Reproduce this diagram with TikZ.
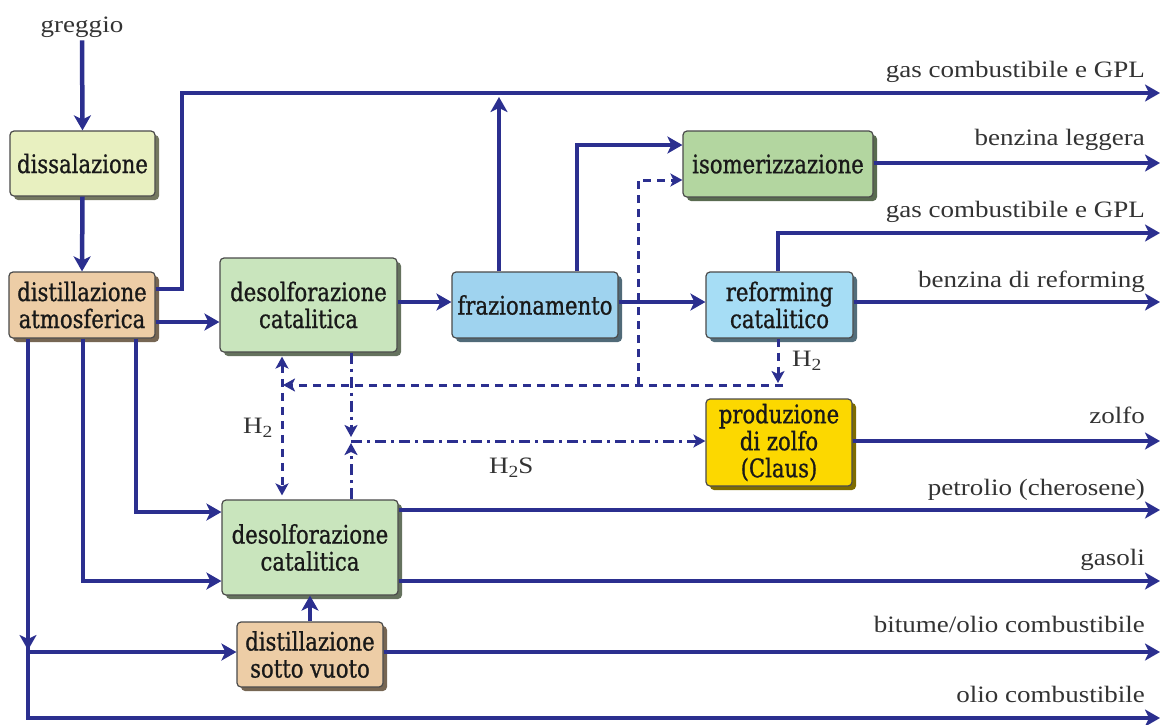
\documentclass[tikz,border=0pt]{standalone}
\usepackage{fontspec}
\usetikzlibrary{arrows.meta,shadows}
\newfontfamily\boxfont[FakeStretch=0.83,FakeBold=0.9]{DejaVu Serif}
\newfontfamily\lblfont[FakeStretch=1.15]{Liberation Serif}
\definecolor{flowc}{HTML}{2B2F8F}
\definecolor{boxline}{HTML}{4A4A4A}
\definecolor{txtc}{HTML}{333333}
\definecolor{cDiss}{HTML}{E8F0C0}
\definecolor{cTan}{HTML}{EDCDA6}
\definecolor{cDes}{HTML}{C9E5BD}
\definecolor{cIso}{HTML}{B3D6A0}
\definecolor{cFraz}{HTML}{9FD3EF}
\definecolor{cRef}{HTML}{A6DDF5}
\definecolor{cClaus}{HTML}{FCD800}
% chemical subscript, set lower and larger than \textsubscript
\newcommand{\chemsub}[1]{\raisebox{-0.45ex}{\fontsize{17}{17}\selectfont #1}}
\tikzset{
  unit/.style={draw=boxline, line width=1.2pt, rounded corners=4pt, fill=#1,
    general shadow={fill=#1!50!black, shadow xshift=4pt, shadow yshift=-4pt},
    inner sep=0pt, align=center, text=black!90,
    font=\boxfont\fontsize{25.5}{27}\selectfont},
  lbl/.style={text=txtc, inner sep=0pt, font=\lblfont\fontsize{23.5}{26}\selectfont},
  flowline/.style={draw=flowc, line width=4.5pt, line join=miter},
  flowarrow/.style={flowline, -{Stealth[length=15pt,width=17pt,inset=4pt]}},
  dashline/.style={draw=flowc, line width=3pt, dash pattern=on 8pt off 6pt},
  dasharrow/.style={dashline, -{Stealth[length=12pt,width=13pt,inset=3pt]}},
  dotline/.style={draw=flowc, line width=3pt, dash pattern=on 11pt off 5pt on 3pt off 5pt},
  dotarrow/.style={dotline, -{Stealth[length=12pt,width=13pt,inset=3pt]}},
}
\begin{document}
\begin{tikzpicture}[x=1pt,y=-1pt]
\useasboundingbox (0,0) rectangle (1167,724);

% process units
\node[unit=cDiss, minimum width=145pt, minimum height=65pt] (diss) at (82.5,163.5) {dissalazione};
\node[unit=cTan, minimum width=146pt, minimum height=66pt] (datm) at (82,305) {distillazione\\atmosferica};
\node[unit=cDes, minimum width=177pt, minimum height=94pt] (des1) at (308.5,305) {desolforazione\\catalitica};
\node[unit=cFraz, minimum width=166pt, minimum height=66pt] (fraz) at (535,305) {frazionamento};
\node[unit=cIso, minimum width=190pt, minimum height=66pt] (iso) at (778,164) {isomerizzazione};
\node[unit=cRef, minimum width=147pt, minimum height=66pt] (ref) at (779.5,305) {reforming\\catalitico};
\node[unit=cClaus, minimum width=146pt, minimum height=87pt] (claus) at (779,442.5) {produzione\\di zolfo\\(Claus)};
\node[unit=cDes, minimum width=176pt, minimum height=95pt] (des2) at (310,547.5) {desolforazione\\catalitica};
\node[unit=cTan, minimum width=146pt, minimum height=65pt] (vuoto) at (310,654.5) {distillazione\\sotto vuoto};

% feed
\node[lbl, anchor=base, inner sep=3pt] (greg) at (82,32) {greggio};
\draw[flowarrow] (greg.south) -- (diss.north);
\draw[flowarrow] (diss.south) -- (datm.north);

% helper points for the routed lines
\coordinate (c1) at (182,289);
\coordinate (c2) at (182,93);
\coordinate (y322) at (0,322);
\coordinate (y302) at (0,302);
\coordinate (f1) at (499,97);
\coordinate (f2) at (577,145);
\coordinate (r1) at (778,233);
\coordinate (o1) at (1160,93);
\coordinate (o2) at (1160,163);
\coordinate (o3) at (1160,233);
\coordinate (o4) at (1160,302);
\coordinate (o5) at (1160,441);
\coordinate (o6) at (1160,510);
\coordinate (o7) at (1160,581);
\coordinate (o8) at (1160,652);
\coordinate (o9) at (1160,718);
\coordinate (l1) at (136,512);
\coordinate (l2) at (83,581);
\coordinate (l3) at (28,718);
\coordinate (l4) at (28,652);
\coordinate (l5a) at (28,625);
\coordinate (l5) at (28,650);
\coordinate (h1) at (778,383);
\coordinate (h2) at (783,385);
\coordinate (h3) at (283,385);
\coordinate (i1) at (638,385);
\coordinate (i2) at (638,180);
\coordinate (v1) at (282,0);
\coordinate (s1) at (351,437);
\coordinate (s2) at (351,443);
\coordinate (s3) at (351,441);

% main product lines
\draw[flowarrow] (datm.east |- c1) -- (c1) -- (c2) -- (o1);
\draw[flowarrow] (datm.east |- y322) -- (des1.west |- y322);
\draw[flowarrow] (des1.east |- y302) -- (fraz.west |- y302);
\draw[flowarrow] (fraz.east |- y302) -- (ref.west |- y302);
\draw[flowarrow] (ref.east |- y302) -- (o4);
\draw[flowarrow] (fraz.north -| f1) -- (f1);
\draw[flowarrow] (fraz.north -| f2) -- (f2) -- (iso.west |- f2);
\draw[flowarrow] (iso.east |- o2) -- (o2);
\draw[flowarrow] (ref.north -| r1) -- (r1) -- (o3);
\draw[flowarrow] (claus.east |- o5) -- (o5);
\draw[flowarrow] (des2.east |- o6) -- (o6);
\draw[flowarrow] (des2.east |- o7) -- (o7);
\draw[flowarrow] (datm.south -| l1) -- (l1) -- (des2.west |- l1);
\draw[flowarrow] (datm.south -| l2) -- (l2) -- (des2.west |- l2);
\draw[flowarrow] (datm.south -| l3) -- (l3) -- (o9);
\draw[flowarrow] (l5a) -- (l5);
\draw[flowarrow] (l4) -- (vuoto.west |- l4);
\draw[flowarrow] (vuoto.north) -- (des2.south);
\draw[flowarrow] (vuoto.east |- o8) -- (o8);

% hydrogen network
\draw[dasharrow] (ref.south -| h1) -- (h1);
\draw[dasharrow] (h2) -- (h3);
\draw[dasharrow] (i1) -- (i2) -- (iso.west |- i2);
\draw[dashline, {Stealth[length=12pt,width=13pt,inset=3pt]}-{Stealth[length=12pt,width=13pt,inset=3pt]}, shorten <=4pt, shorten >=4pt]
  (des1.south -| v1) -- (des2.north -| v1);

% hydrogen sulphide
\draw[dotarrow] (des1.south -| s1) -- (s1);
\draw[dotarrow] (des2.north -| s2) -- (s2);
\draw[dotarrow] (s3) -- (claus.west |- s3);

% stream labels
\node[lbl, anchor=base east] (t1) at (1145,77) {gas combustibile e GPL};
\node[lbl, anchor=base east] (t2) at (1145,145) {benzina leggera};
\node[lbl, anchor=base east] (t3) at (1145,217) {gas combustibile e GPL};
\node[lbl, anchor=base east] (t4) at (1145,287) {benzina di reforming};
\node[lbl, anchor=base east] (t5) at (1145,423) {zolfo};
\node[lbl, anchor=base east] (t6) at (1145,495) {petrolio (cherosene)};
\node[lbl, anchor=base east] (t7) at (1145,565) {gasoli};
\node[lbl, anchor=base east] (t8) at (1145,632) {bitume/olio combustibile};
\node[lbl, anchor=base east] (t9) at (1145,702) {olio combustibile};
\node[lbl, anchor=base west] (hA) at (243,433) {H\chemsub{2}};
\node[lbl, anchor=base west] (hB) at (792,366) {H\chemsub{2}};
\node[lbl, anchor=base west] (hs) at (489,473) {H\chemsub{2}S};
\end{tikzpicture}
\end{document}
